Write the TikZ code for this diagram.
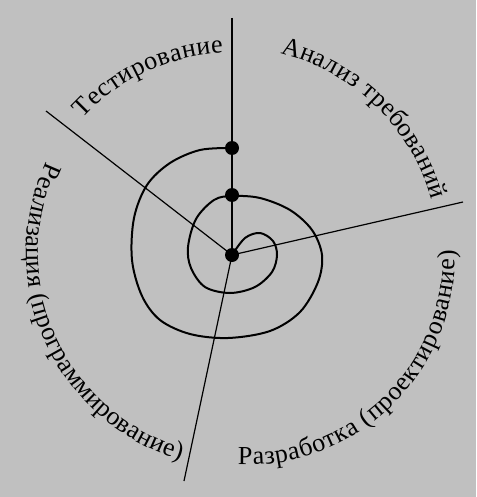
\documentclass[tikz,border=0pt]{standalone}
\usepackage{fontspec}
\setmainfont{Liberation Serif}
\usetikzlibrary{decorations.text}
\definecolor{bg}{RGB}{192,192,192}
\newcommand{\lblfont}{\fontsize{26}{31}\selectfont}
\begin{document}
\begin{tikzpicture}[x=1pt,y=1pt,
  spoke/.style={line width=1.2pt, draw=black},
  axisline/.style={line width=1.8pt, draw=black},
  spiralline/.style={line width=2pt, line join=round, line cap=round},
  dot/.style={circle, fill=black, inner sep=0pt, minimum size=14pt},
  arclabel/.style={decorate, decoration={text along path, text align={fit to path}, text={|\lblfont|#1}}}
]
\fill[bg] (0,0) rectangle (476,-497);
\useasboundingbox (0,0) rectangle (476,-497);
\coordinate (c) at (232,-255);
\coordinate (top) at (232,-18);
\coordinate (ul) at (46,-111);
\coordinate (rt) at (463,-202);
\coordinate (lo) at (184,-481);
\draw[axisline] (top) -- (c);
\draw[spoke] (ul) -- (c);
\draw[spoke] (rt) -- (c);
\draw[spoke] (lo) -- (c);
\draw[spiralline] plot[smooth, tension=0.55] coordinates {
 (232,-255) (245,-238) (260,-233) (273,-241) (277,-255) (272,-272) (255,-287)
 (230,-293) (205,-287) (191,-268) (188,-247) (196,-219) (214,-200) (232,-196)
 (260,-198) (290,-210) (312,-230) (322,-255) (318,-282) (300,-312) (270,-331)
 (228,-338) (190,-334) (160,-320) (142,-296) (132,-260) (134,-218) (147,-185)
 (170,-163) (200,-150) (232,-148)};
\node[dot] (d0) at (c) {};
\node[dot] (d1) at (232,-195) {};
\node[dot] (d2) at (232,-148) {};
\path[arclabel={Тестирование}] ([shift={(137.5:202)}]c) arc[start angle=137.5, end angle=92.5, radius=202];
\path[arclabel={Анализ требований}] ([shift={(76.5:207)}]c) arc[start angle=76.5, end angle=15.5, radius=207];
\coordinate (c3) at (242,-253);
\path[arclabel={Реализация (программирование)}] ([shift={(155:216)}]c3) arc[start angle=155, end angle=253.5, radius=216];
\coordinate (c4) at (247,-257);
\path[arclabel={Разработка (проектирование)}] ([shift={(267.5:208)}]c4) arc[start angle=267.5, end angle=362, radius=208];
\end{tikzpicture}
\end{document}
